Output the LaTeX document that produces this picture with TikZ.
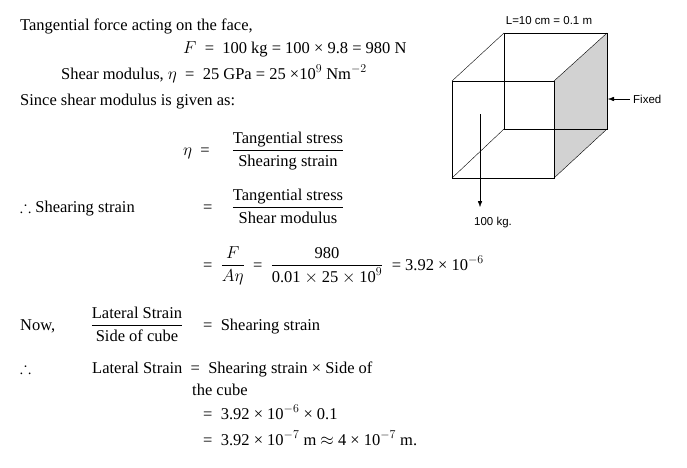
\documentclass[tikz,border=0pt]{standalone}
\usepackage{amsmath,amssymb}
\usepackage{fontspec}
\setmainfont{Liberation Serif}
\usetikzlibrary{arrows.meta}
\newfontfamily\labelfont{Liberation Sans}
\newcommand{\bodysize}{\fontsize{16.5pt}{19pt}\selectfont}
\tikzset{txt/.style={anchor=base west,inner sep=0pt,font=\bodysize},
  eqs/.style={anchor=base,inner sep=0pt,font=\bodysize},
  lbl/.style={inner sep=0pt,font=\labelfont\fontsize{11.5pt}{13pt}\selectfont}}
\begin{document}
\begin{tikzpicture}[x=1pt,y=-1pt]
\useasboundingbox (0,0) rectangle (687,467);
%Text
\node[txt] (t1) at (20,30) {Tangential force acting on the face,};
\node[txt] (t2) at (183,53) {$F$ \ = \ 100 kg = 100 × 9.8 = 980 N};
\node[txt] (t3) at (61,79) {Shear modulus, $\eta$ \ = \ 25 GPa = 25 ×10$^9$ Nm$^{-2}$};
\node[txt] (t4) at (20,105) {Since shear modulus is given as:};
\node[txt] (e1) at (183,155) {$\eta$ \ =};
\node[eqs] (f1) at (288,155) {$\dfrac{\text{Tangential stress}}{\text{Shearing strain}}$};
\node[txt] (e2) at (20,212) {$\therefore$ Shearing strain};
\node[txt] (e2b) at (203,212) {=};
\node[eqs] (f2) at (288,212) {$\dfrac{\text{Tangential stress}}{\text{Shear modulus}}$};
\node[txt] (e3) at (203,270) {= \ $\dfrac{F}{A\eta}$ \ = \ $\dfrac{\text{980}}{\text{0.01}\times\text{25}\times\text{10}^9}$ \ = 3.92 × 10$^{-6}$};
\node[txt] (n1) at (20,330) {Now,};
\node[eqs] (f3) at (137,330) {$\dfrac{\text{Lateral Strain}}{\text{Side of cube}}$};
\node[txt] (n1b) at (203,330) {= \ Shearing strain};
\node[txt] (l1) at (20,373) {$\therefore$};
\node[txt] (l2) at (92,373) {Lateral Strain \ = \ Shearing strain × Side of};
\node[txt] (l3) at (192,395) {the cube};
\node[txt] (l4) at (203,419) {= \ 3.92 × 10$^{-6}$ × 0.1};
\node[txt] (l5) at (203,445) {= \ 3.92 × 10$^{-7}$ m $\approx$ 4 × 10$^{-7}$ m.};
%Cube
\coordinate (A) at (452,81); \coordinate (B) at (554,81);
\coordinate (C) at (554,178); \coordinate (D) at (452,178);
\coordinate (E) at (504,33); \coordinate (F) at (607,33);
\coordinate (G) at (607,129); \coordinate (H) at (504,129);
\fill[gray!35] (B) -- (F) -- (G) -- (C) -- cycle;
\draw (A) -- (B) -- (C) -- (D) -- cycle;
\draw (E) -- (F) -- (G) -- (H) -- cycle;
\draw (A) -- (E) (B) -- (F) (C) -- (G) (D) -- (H);
\node[lbl,anchor=base] (len) at (549,24) {L=10 cm = 0.1 m};
\node[lbl,anchor=west] (fix) at (633,99) {Fixed};
\coordinate (fx) at (630,99);
\draw[-{Latex[length=6pt]}] (fx) -- (608,99);
\coordinate (p) at (480,114);
\node[lbl,anchor=north west] (kg) at (474,217) {100 kg.};
\draw[-{Latex[length=6pt]}] (p) -- (480,207);
\end{tikzpicture}
\end{document}
